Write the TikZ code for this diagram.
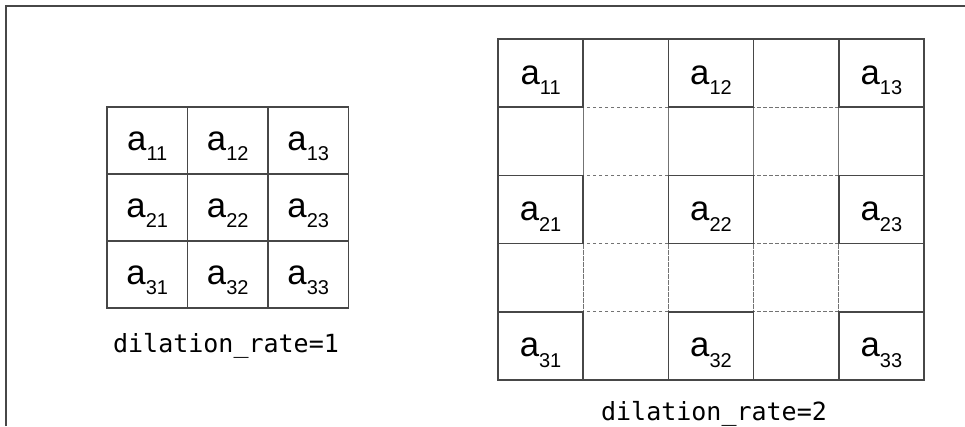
\documentclass[tikz,border=0pt]{standalone}
\usepackage{fontspec}
\newfontfamily\cellfont{Liberation Sans}
\newfontfamily\ratefont{DejaVu Sans Mono}
\newcommand{\entry}[1]{{\cellfont\fontsize{26}{26}\selectfont a}\raisebox{-8pt}{\cellfont\fontsize{15}{15}\selectfont #1}}
\tikzset{
    cell/.style={draw=black!72, line width=1.2pt},
    gap/.style={draw=black!55, line width=0.8pt, dash pattern=on 2.5pt off 2pt},
    elem/.style={inner sep=0pt, anchor=base},
    rate/.style={inner sep=0pt, anchor=base, font=\ratefont\fontsize{18.75}{18.75}\selectfont, text=black}
}
\begin{document}
\begin{tikzpicture}[x=0.75pt,y=-0.75pt]
        \useasboundingbox (0,0) rectangle (965,426);
        \draw [draw=black!72, line width=1.2pt] (6,426) -- (6,6) -- (965,6);

        % dilation_rate=1
        \foreach \i in {1,2,3} {
        \foreach \j in {1,2,3} {
                \draw [cell] ({107+80.5*(\j-1)},{107+67*(\i-1)}) rectangle +(80.5,67);
                \node [elem] (s\i\j) at ({147.25+80.5*(\j-1)},{150+67*(\i-1)}) {\entry{\i\j}};
        }
        }
        \node [rate] (rate1) at (226,352) {dilation\_rate=1};

        % dilation_rate=2
        \foreach \r in {0,...,4} {
        \foreach \c in {0,...,4} {
                \draw [gap] ({498+85.2*\c},{39+68.2*\r}) rectangle +(85.2,68.2);
        }
        }
        \foreach \i in {1,2,3} {
        \foreach \j in {1,2,3} {
                \draw [cell] ({498+170.4*(\j-1)},{39+136.4*(\i-1)}) rectangle +(85.2,68.2);
                \node [elem] (d\i\j) at ({540.6+170.4*(\j-1)},{84+136.4*(\i-1)}) {\entry{\i\j}};
        }
        }
        \draw [cell] (498,39) rectangle (924,380);
        \node [rate] (rate2) at (714,420) {dilation\_rate=2};

\end{tikzpicture}
\end{document}
